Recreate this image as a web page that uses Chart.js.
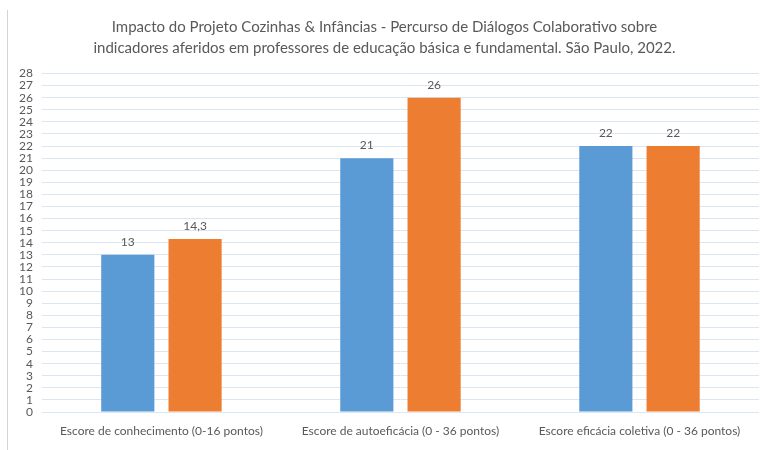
<!DOCTYPE html>
<html>
<head>
<meta charset="utf-8">
<script src="https://cdn.jsdelivr.net/npm/chart.js@4/dist/chart.umd.min.js"></script>
<style>
  html, body { margin: 0; padding: 0; background: #ffffff; }
  #wrap { position: relative; width: 760px; height: 450px; }
  #edge { position: absolute; left: 7px; top: 10px; width: 1px; height: 440px; background: #d4d4d4; }
  canvas { position: absolute; left: 0; top: 0; }
</style>
</head>
<body>
<div id="wrap">
  <canvas id="c" width="760" height="450"></canvas>
  <div id="edge"></div>
</div>
<script>
const categories = [
  "Escore de conhecimento (0-16 pontos)",
  "Escore de autoeficácia (0 - 36 pontos)",
  "Escore eficácia coletiva (0 - 36 pontos)"
];
const seriesBlue = [13, 21, 22];
const seriesOrange = [14.3, 26, 22];
const yMin = 0, yMax = 28, yStep = 1;
const titleLines = [
  "Impacto do Projeto Cozinhas & Infâncias - Percurso de Diálogos Colaborativo sobre",
  "indicadores aferidos em professores de educação básica e fundamental. São Paulo, 2022."
];

const FONT = "Lato, 'Open Sans', sans-serif";
const TXT = "#595959";

const valueLabels = {
  id: "valueLabels",
  afterDatasetsDraw(chart) {
    const ctx = chart.ctx;
    ctx.save();
    ctx.font = "12px " + FONT;
    ctx.fillStyle = TXT;
    ctx.textAlign = "center";
    ctx.textBaseline = "middle";
    chart.data.datasets.forEach((ds, i) => {
      const meta = chart.getDatasetMeta(i);
      meta.data.forEach((bar, j) => {
        const v = ds.data[j];
        const s = String(v).replace(".", ",");
        ctx.fillText(s, bar.x, bar.y - 13);
      });
    });
    ctx.restore();
  }
};

new Chart(document.getElementById("c"), {
  type: "bar",
  data: {
    labels: categories,
    datasets: [
      { label: "A", data: seriesBlue, backgroundColor: "#5B9BD5", borderWidth: 0 },
      { label: "B", data: seriesOrange, backgroundColor: "#ED7D31", borderWidth: 0 }
    ]
  },
  options: {
    responsive: false,
    animation: false,
    devicePixelRatio: 1,
    layout: { padding: { left: 10, right: 1, top: 0, bottom: 0 } },
    categoryPercentage: 0.563,
    barPercentage: 0.79,
    plugins: {
      legend: { display: false },
      tooltip: { enabled: false },
      title: {
        display: true,
        text: titleLines,
        color: TXT,
        font: { family: FONT, size: 15, weight: "normal", lineHeight: 1.45 },
        padding: { top: 16, bottom: 14 }
      }
    },
    scales: {
      x: {
        grid: { display: false, drawTicks: false },
        border: { display: false },
        ticks: { color: TXT, font: { family: FONT, size: 12, lineHeight: 1 }, padding: 13, maxRotation: 0, autoSkip: false }
      },
      y: {
        min: yMin, max: yMax,
        grid: { color: "#dce6f2", lineWidth: 1, drawTicks: false },
        border: { display: false },
        ticks: { stepSize: yStep, color: TXT, font: { family: FONT, size: 12 }, padding: 9, autoSkip: false }
      }
    }
  },
  plugins: [valueLabels]
});
</script>
</body>
</html>
